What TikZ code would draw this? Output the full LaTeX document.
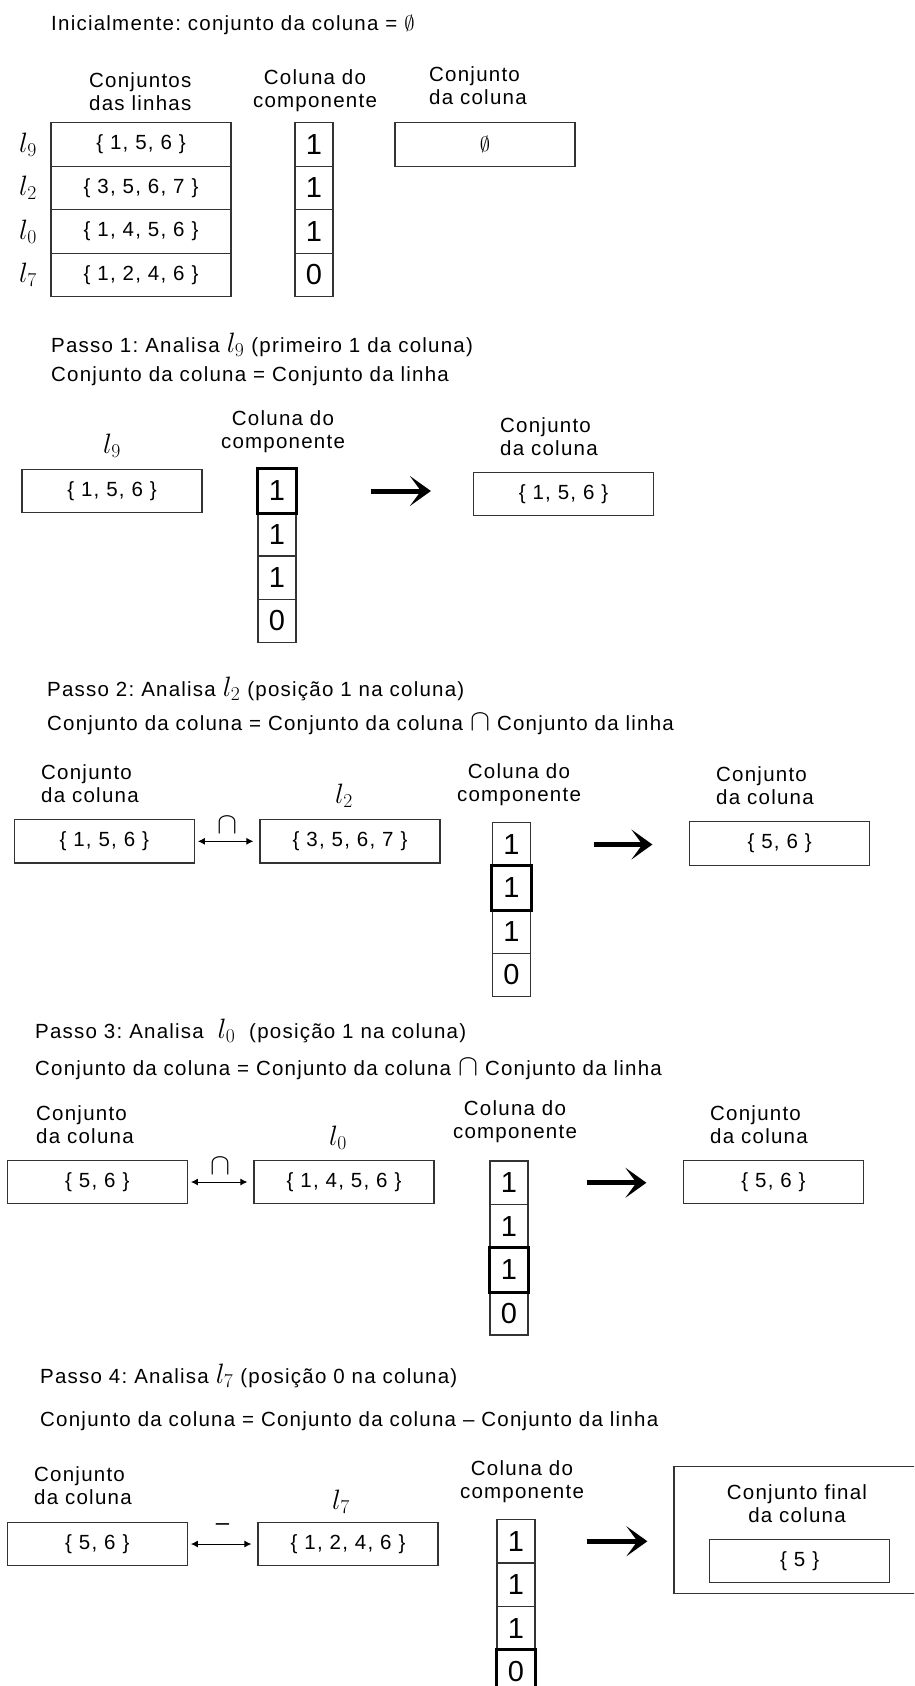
\RequirePackage{fix-cm}
\documentclass[tikz,border=0pt]{standalone}
\usepackage{fontspec}
\setmainfont{Liberation Sans}[LetterSpace=6]
\usetikzlibrary{arrows.meta}
\frenchspacing

\newcommand{\lvar}[1]{{\fontsize{28}{28}\selectfont$l_{#1}$}}
\newcommand{\capsym}{{\fontsize{30}{30}\selectfont$\cap$}}

\begin{document}
\begin{tikzpicture}[x=1pt, y=-1pt,
  every node/.style={inner sep=0pt, font=\fontsize{20.5}{23}\selectfont},
  setbox/.style={draw=black!80, line width=1.2pt, minimum width=180pt, minimum height=43.5pt},
  cell/.style={draw=black!80, line width=1.2pt, minimum width=38pt, minimum height=43.5pt, font=\fontsize{29}{29}\selectfont},
  selcell/.style={draw=black, line width=3pt},
  hdr/.style={align=center},
  hdrl/.style={align=left, anchor=west},
  stepline/.style={anchor=base west},
  opline/.style={{Latex[length=7pt,width=7pt]}-{Latex[length=7pt,width=7pt]}, line width=1pt, shorten <=3pt, shorten >=6pt},
  opsym/.style={above=7pt},
  bigarrow/.style={line width=5pt, -{Stealth[length=21pt,width=30pt,inset=11pt]}}]

\useasboundingbox (0,0) rectangle (914,1686);
\clip (0,0) rectangle (914,1686);

% estado inicial
\node[stepline] (ini) at (51,31) {Inicialmente: conjunto da coluna = $\emptyset$};
\node[hdrl] (hSets) at (89,91.5) {Conjuntos\\das linhas};
\node[hdr] (hComp0) at (315,91) {Coluna do\\componente};
\node[hdrl] (hCol0) at (429,86) {Conjunto\\da coluna};
\node[setbox] (row9) at (141,144.5) {\{ 1, 5, 6 \}};
\node[setbox] (row2) at (141,188) {\{ 3, 5, 6, 7 \}};
\node[setbox] (row0) at (141,231.5) {\{ 1, 4, 5, 6 \}};
\node[setbox] (row7) at (141,275) {\{ 1, 2, 4, 6 \}};
\node (l9) at (28,144.5) {\lvar{9}};
\node (l2) at (28,188) {\lvar{2}};
\node (l0) at (28,231.5) {\lvar{0}};
\node (l7) at (28,275) {\lvar{7}};
\foreach \v [count=\i] in {1,1,1,0}
  \node[cell] (c0\i) at (314,{101+43.5*\i}) {\v};
\node[setbox] (col0) at (485,144.5) {$\emptyset$};

% passo 1
\node[stepline] (p1a) at (51,352) {Passo 1: Analisa \lvar{9} (primeiro 1 da coluna)};
\node[stepline] (p1b) at (51,381) {Conjunto da coluna = Conjunto da linha};
\node (h1) at (112,446) {\lvar{9}};
\node[setbox] (row1) at (112,491) {\{ 1, 5, 6 \}};
\node[hdr] (hComp1) at (283,432) {Coluna do\\componente};
\foreach \v [count=\i] in {1,1,1,0}
  \node[cell] (c1\i) at (277,{447.7+43.3*\i}) {\v};
\draw[selcell] (c11.north west) rectangle (c11.south east);
\node[hdrl] (hCol1) at (500,437) {Conjunto\\da coluna};
\node[setbox] (col1) at (563.5,494) {\{ 1, 5, 6 \}};
\draw[bigarrow, shorten <=74pt, shorten >=42pt] (c11.east) -- (c11.east -| col1.west);

% passo 2
\node[stepline] (p2a) at (47,696) {Passo 2: Analisa \lvar{2} (posição 1 na coluna)};
\node[stepline] (p2b) at (47,730.5) {Conjunto da coluna = Conjunto da coluna \capsym{} Conjunto da linha};
\node[hdrl] (hCur2) at (41,784) {Conjunto\\da coluna};
\node[setbox] (cur2) at (104.3,841.3) {\{ 1, 5, 6 \}};
\node (h2) at (344,796) {\lvar{2}};
\node[setbox] (row2b) at (350,841.3) {\{ 3, 5, 6, 7 \}};
\draw[opline] (cur2) -- node[opsym] (op2) {\capsym} (row2b);
\node[hdr] (hComp2) at (519,784.5) {Coluna do\\componente};
\foreach \v [count=\i] in {1,1,1,0}
  \node[cell] (c2\i) at (511.5,{801+43.5*\i}) {\v};
\draw[selcell] (c22.north west) rectangle (c22.south east);
\node[hdrl] (hCol2) at (716,786) {Conjunto\\da coluna};
\node[setbox] (col2) at (779.6,843.4) {\{ 5, 6 \}};
\draw[bigarrow, shorten <=62.5pt, shorten >=36.6pt] (c21.east) -- (c21.east -| col2.west);

% passo 3
\node[stepline] (p3a) at (35,1038) {Passo 3: Analisa~~\lvar{0}~~(posição 1 na coluna)};
\node[stepline] (p3b) at (35,1075.5) {Conjunto da coluna = Conjunto da coluna \capsym{} Conjunto da linha};
\node[hdrl] (hCur3) at (36,1125) {Conjunto\\da coluna};
\node[setbox] (cur3) at (97.3,1182) {\{ 5, 6 \}};
\node (h3) at (338,1138) {\lvar{0}};
\node[setbox] (row3) at (344,1182) {\{ 1, 4, 5, 6 \}};
\draw[opline] (cur3) -- node[opsym] (op3) {\capsym} (row3);
\node[hdr] (hComp3) at (515,1122) {Coluna do\\componente};
\foreach \v [count=\i] in {1,1,1,0}
  \node[cell] (c3\i) at (509,{1139.25+43.5*\i}) {\v};
\draw[selcell] (c33.north west) rectangle (c33.south east);
\node[hdrl] (hCol3) at (710,1125) {Conjunto\\da coluna};
\node[setbox] (col3) at (773.5,1182) {\{ 5, 6 \}};
\draw[bigarrow, shorten <=58pt, shorten >=36.5pt] (c31.east) -- (c31.east -| col3.west);

% passo 4
\node[stepline] (p4a) at (40,1383) {Passo 4: Analisa \lvar{7} (posição 0 na coluna)};
\node[stepline] (p4b) at (40,1426) {Conjunto da coluna = Conjunto da coluna – Conjunto da linha};
\node[hdrl] (hCur4) at (34,1486) {Conjunto\\da coluna};
\node[setbox] (cur4) at (97.3,1544) {\{ 5, 6 \}};
\node (h4) at (341,1502) {\lvar{7}};
\node[setbox] (row4) at (348,1544) {\{ 1, 2, 4, 6 \}};
\draw[opline] (cur4) -- node[opsym, above=6pt, font=\fontsize{24}{24}\selectfont] (op4) {–} (row4);
\node[hdr] (hComp4) at (522,1482) {Coluna do\\componente};
\foreach \v [count=\i] in {1,1,1,0}
  \node[cell] (c4\i) at (516,{1497.75+43.5*\i}) {\v};
\draw[selcell] (c44.north west) rectangle (c44.south east);
\node[draw=black!80, line width=1.2pt, minimum width=256pt, minimum height=126.6pt] (fin) at (802,1530) {};
\node[hdr] (hFin) at (797,1504) {Conjunto final\\da coluna};
\node[setbox] (col4) at (799.7,1561) {\{ 5 \}};
\draw[bigarrow, shorten <=51pt, shorten >=26pt] (c41.east) -- (c41.east -| fin.west);
\end{tikzpicture}
\end{document}
